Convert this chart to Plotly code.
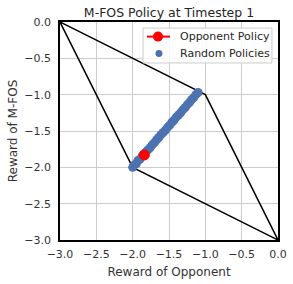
import plotly.graph_objects as go

poly_x = [-3, -1, 0, -2, -3]
poly_y = [0, -1, -3, -2, 0]

rand_x = [-2.00, -1.98, -1.95, -1.93, -1.90, -1.87, -1.85, -1.82, -1.79, -1.76, -1.73,
          -1.70, -1.67, -1.64, -1.61, -1.58, -1.55, -1.52, -1.49, -1.46, -1.43, -1.40,
          -1.37, -1.34, -1.31, -1.28, -1.25, -1.22, -1.19, -1.16, -1.13, -1.10]
rand_y = [-2.00, -1.97, -1.95, -1.91, -1.89, -1.85, -1.83, -1.79, -1.76, -1.73, -1.69,
          -1.66, -1.62, -1.59, -1.55, -1.52, -1.49, -1.45, -1.42, -1.38, -1.35, -1.31,
          -1.28, -1.25, -1.21, -1.18, -1.14, -1.11, -1.07, -1.04, -1.00, -0.97]

opp_x = [-1.84]
opp_y = [-1.83]

ticks = [-3.0, -2.5, -2.0, -1.5, -1.0, -0.5, 0.0]
legend_labels = ["Opponent Policy", "Random Policies"]
RED = "red"
BLUE = "#4c72b0"

fig = go.Figure()
fig.add_trace(go.Scatter(x=poly_x, y=poly_y, mode="lines", line=dict(color="black", width=1.5),
                         showlegend=False, hoverinfo="skip"))
fig.add_trace(go.Scatter(x=rand_x, y=rand_y, mode="markers", name=legend_labels[1],
                         showlegend=False,
                         marker=dict(color=BLUE, size=9, line=dict(width=0))))
fig.add_trace(go.Scatter(x=opp_x, y=opp_y, mode="lines+markers", name=legend_labels[0],
                         showlegend=False,
                         line=dict(color=RED, width=2),
                         marker=dict(color=RED, size=11, line=dict(width=0))))

axis_common = dict(range=[-3, 0], tickvals=ticks, tickformat=".1f", showgrid=True,
                   gridcolor="#cccccc", gridwidth=1, zeroline=False, showline=True,
                   linecolor="black", linewidth=1.5, mirror=True, ticks="",
                   automargin=False,
                   tickfont=dict(size=11, color="#333333"))

# manual legend (paper coordinates; plot area is square)
ly1, ly2 = 0.933, 0.856
shapes = [
    dict(type="rect", xref="paper", yref="paper", x0=0.381, x1=0.972, y0=0.812, y1=0.972,
         line=dict(color="#cccccc", width=1), fillcolor="rgba(255,255,255,0.85)", layer="above"),
    dict(type="line", xref="paper", yref="paper", x0=0.399, x1=0.505, y0=ly1, y1=ly1,
         line=dict(color=RED, width=2), layer="above"),
    dict(type="circle", xref="paper", yref="paper", x0=0.4495 - 0.023, x1=0.4495 + 0.023,
         y0=ly1 - 0.023, y1=ly1 + 0.023, fillcolor=RED, line=dict(width=0), layer="above"),
    dict(type="circle", xref="paper", yref="paper", x0=0.454 - 0.016, x1=0.454 + 0.016,
         y0=ly2 - 0.016, y1=ly2 + 0.016, fillcolor=BLUE, line=dict(width=0), layer="above"),
]
annotations = [
    dict(xref="paper", yref="paper", x=0.541, y=ly1, xanchor="left", yanchor="middle",
         text=legend_labels[0], showarrow=False, font=dict(size=11, color="#262626")),
    dict(xref="paper", yref="paper", x=0.541, y=ly2, xanchor="left", yanchor="middle",
         text=legend_labels[1], showarrow=False, font=dict(size=11, color="#262626")),
]

fig.update_layout(
    width=293, height=284,
    margin=dict(l=60, r=15, t=22, b=44),
    paper_bgcolor="white", plot_bgcolor="white",
    font=dict(family="DejaVu Sans", color="#333333"),
    showlegend=False,
    hovermode=False,
    shapes=shapes,
    annotations=annotations,
    title=dict(text="M-FOS Policy at Timestep 1", xref="paper", x=0.5, xanchor="center",
               yref="container", y=1 - 12.5 / 284, yanchor="middle",
               font=dict(size=12.5, color="#262626")),
    xaxis=dict(title=dict(text="Reward of Opponent", font=dict(size=12), standoff=8), ticklabelstandoff=3, **axis_common),
    yaxis=dict(title=dict(text="Reward of M-FOS", font=dict(size=12), standoff=4), ticklabelstandoff=5, **axis_common),
)

fig.write_html("out.html", config={"displayModeBar": False},
               post_script="document.body.style.margin='0';")
